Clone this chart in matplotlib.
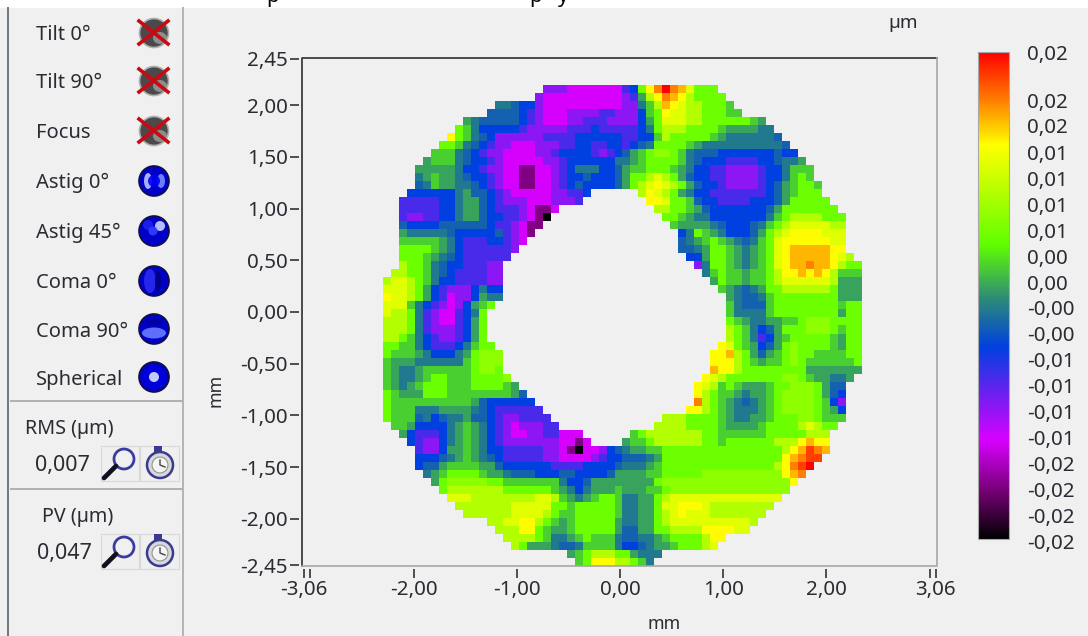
import numpy as np
import matplotlib
matplotlib.use("Agg")
import matplotlib.pyplot as plt
from matplotlib.colors import LinearSegmentedColormap, Normalize
from matplotlib.patches import Circle, Ellipse, Rectangle

plt.rcParams['font.family'] = ['Noto Sans', 'DejaVu Sans']

W, H = 1088, 636
BG = '#f0f0f0'
TXT = '#2b2b33'

# wavefront levels in um, by code letter
level_um = dict(k=-0.0235, d=-0.0183, m=-0.0140, v=-0.0108, p=-0.0080, b=-0.0050,
                s=-0.0028, t=-0.0014, n=0.0009, g=0.0028, l=0.0056, L=0.0078, h=0.0099,
                y=0.0127, Y=0.0146, G=0.0169, o=0.0188, R=0.0212, r=0.0235)

# each row: "<start column><level> ... ;<end column>", '|' separates the two sides of the hole
wave_rows = [
 "20v 23m 30p 31b 32l 33Y 34o 35r 36o 37G 38y 39l ;42",
 "19v 20m 30v 31p 32n 33h 34Y 35o 36G 37Y 38h 39l ;43",
 "14t 16s 17b 19v 20m 30v 32t 33g 34h 35G 36Y 37y 38h 40l 43g ;44",
 "13s 17b 18p 19v 20m 23v 27p 29v 32b 33g 34l 35Y 36y 38h 40l 43g ;45",
 "10n 11t 12s 17b 18p 19v 20m 23v 25p 28v 32b 33n 34l 35y 38h 40l 46g 47n ;48",
 "9l 10g 11t 12b 17p 18v 23p 26b 27p 32b 33t 34l 35h 38l 42g 43n 47t ;49",
 "8Y 9l 10g 11t 12s 13b 14v 20p 24b 30p 32b 34g 35h 36l 41g 42n 43t 49s ;50",
 "7l 9g 10t 11s 12b 13p 14v 16m 19v 22p 24b 26p 28b 30p 31b 32s 33t 34l 38g 39n 40t 50s ;51",
 "6g 9t 10s 11b 12p 13v 15m 19v 21p 22b 26p 27v 28p 29b 30s 31n 32g 33l 34L 36l 37g 38t 39s 42b 49s 50b ;52",
 "5n 6g 9t 10s 11b 13p 14v 15m 20v 22p 23b 29t 31n 32g 33l 37g 38t 39s 40b 43p 47b 49s 50t 52n ;53",
 "4n 9t 10b 12p 13v 15m 17d 19m 21v 22p 23b 24t 27b 29s 30n 31g 33l 36g 37n 38t 39b 41p 43v 47p 48b 50t 51g ;54",
 "4t 5n 6g 7n 9t 10s 11b 13p 14v 15m 17d 19m 21v 22p 23b 25s 26b 29s 30n 31l 33h 34y 35h 36l 37n 38s 39b 41p 43v 47p 48b 50t 51g 52l 53g ;54",
 "4s 5t 6g 7n 9t 11s 12b 13p 14v 15m 17d 19m 21v 22p 23b 24s 25b 29s 30n 31l 32h 33y 34Y 35y 36h 37l 38n 39s 40b 42p 43v 47p 48b 49s 50n 51g 52l 54g ;55",
 "3b 9t 10n 11s 13b 14p 15v 16m 21v 23p 25b ;26 | 32h 33Y 34y 35h 36l 37n 38t 39b 41p 48b 49s 50n 51g 52l ;55",
 "2p 7b 9t 10n 12s 13b 14p 15v 18m 21v 24p ;25 | 33Y 35y 36l 38g 39s 40b 42p 46b 49s 50n 51l ;56",
 "2p 7b 9t 10n 12s 13b 14p 17v 18m 19d 21m ;22 | 34h 36l 38g 39n 40s 41b 48s 49n 50l ;57",
 "2p 3v 5p 7b 9t 10n 12s 13b 15p 17v 18m 19d 20k ;21 | 35l 37g 38n 39t 41b 48t 49g 50l 51h 55l ;58",
 "2s 3b 7s 13b 14p 16v 17m 18d ;20 | 36g 37n 41t 42s 43b 46s 47t 48g 49l 50h 51y 56h ;58",
 "2n 3t 8s 9b 14s 15p 16v 17m 18d ;19 | 37b 38t 39l 40g 41n 42t 43b 46s 47n 48l 49h 50y 51Y 55y ;58",
 "2g 7n 8t 9b 10p 13b 15p 16v 17m ;18 | 37s 38t 39n 40g 41l 42g 43n 44t 45s 46t 47g 48l 49y 50Y 56y ;58",
 "2l 6g 7n 8t 9b 10p 16v ;17 | 37s 39t 40n 41l 43g 44n 45t 46n 47g 48l 49y 50Y 51G 56Y ;58",
 "2l 5g 6n 7t 8s 9b 10p ;16 | 38b 40n 41l 43g 44n 45t 46n 47g 48l 49y 50Y 51G 56Y 57y 58h ;59",
 "2h 3l 5g 6t 7s 8b 10p 13v ;15 | 39v 40t 41l 43g 44n 45t 46n 47g 48l 49y 50Y 51G 53o 54G 56Y 57h 58l ;60",
 "1h 3l 5g 6t 7s 8b 9p 13v ;15 | 40t 41g 42l 43g 45n 46g 48l 49h 50Y 52G 53Y 54G 55Y 56h 57g ;60",
 "0h 1y 3h 4l 5g 6t 7b 9p 13v ;15 | 41n 42l 43g 45n 46g 48l 49h 50y 56h 57n ;60",
 "0y 3h 4l 5n 6b 7p 8v 11b 12t 13b ;15 | 42g 43n 44t 45s 46t 47n 48l 50h 56l 57n ;60",
 "0Y 1y 3h 4l 5n 6b 7p 8m 9v 11b 12n 13t ;15 | 43n 44t 45s 47t 48g 49l 57n ;60",
 "0y 3g 4t 5b 6p 7v 8m 9v 10b 11n 12g 13l ;14 | 43g 44t 45s 48g 49l 57g 58l ;60",
 "0y 1h 3l 4t 5p 6v 7m 9p 10b 11t 12l ;13 | 43g 44t 48g 49l 57n 58l ;60",
 "0h 3l 4t 5p 6v 7m 9p 10b 11n 12l ;13 | 43l 44g 45n 46t 48n 50g 52l 53L 56l ;60",
 "0h 3l 4t 5p 6v 9p 10b 11n 12l ;13 | 43h 44l 45g 46t 47b 48s 49n 50l 53L 56l 57g 58l ;60",
 "0h 2l 3g 4t 5b 6p 7v 9p 10b 11n 12l ;13 | 43h 44l 45g 46t 47p 48b 49n 50g 51l 56g 57n 58l ;60",
 "0l 2g 4t 5b 6p 9b 10t 11g 12l ;14 | 42Y 43y 44l 45g 46n 47b 48s 49n 50l 51L 52l 56g 57n 58l ;60",
 "0l 1g 4n 5t 6b 9t 10n 11l 12L ;15 | 41Y 43G 44h 45l 46n 47s 48n 49g 50l 51L 52l 54g 58l ;60",
 "0g 1n 4t 10g 11l 12L ;15 | 41Y 44h 45l 46g 47n 48g 50l 51L 52l 53g 59l ;60",
 "0g 1n 2t 4n 5g 11l 12L 14l ;15 | 41G 42Y 44h 45l 53n ;60",
 "0g 1n 2t 4n 5g 6l 8g 11l 15L ;16 | 40Y 41y 42h 43l 50L 52l 53g 54n 56t 58n ;59",
 "0g 1n 2t 3n 4g 5l 8g 11l 15g 16n ;17 | 39Y 40y 41h 42g 43l 44g 45n 48g 49l 51L 54l 55n 56s ;58",
 "0l 1g 2n 5l 8g 16n 17s ;18 | 39Y 40h 41l 42g 44n 45t 46n 48g 49l 50L 54l 55n 56s 57b ;58",
 "0l 1g 11n 12s 13b ;19 | 39o 40h 41l 42g 43n 44t 45s 46t 47n 48g 49l 50L 54l 55g 56b 57v ;58",
 "0l 1g 4t 7n 11t 12s 13b 14p ;20 | 38Y 40h 41l 42g 43n 44t 47n 48g 49l 50L 54l 55g 56n 57b ;58",
 "0l 1g 4s 5t 6b 7s 8t 10n 11s 13b 14p 15v 17p ;21 | 35h 38l 42g 43n 44t 46n 48g 49l 52L 54l 55g ;58",
 "1g 3n 4b 8t 9n 10g 11n 12t 13b 14p 15v 16m 17v 20p ;22 | 34h 38l 42g 43n 47g 48l 52h 53y 54h 55l ;57",
 "2n 3b 4p 7b 8t 9n 10g 11n 12t 13b 14p 15v 16m 18v 20p 22m ;25 | 31g 32l 33h 40l 42g 48l 53h ;56",
 "3b 4p 5v 7b 8t 9n 10g 11n 12t 13b 14p 15v 22m 24d 25m ;26 | 30n 31g 33l 34h 40l 42g 43l 49h 52Y 53G 54Y ;56",
 "4p 5v 7b 8n 10g 11n 12t 13b 15p 20v 22m 23d 24k 25m 27v 28b 29s 30t 31n 33g 35l 50h 51Y 52G 53R 54o 55G ;56",
 "4b 7s 8t 9n 10g 11n 12t 13s 14b 15p 20v 22m 26v 27p 28b 30s 33t 34n 35l 50Y 51G 52o 53R ;55",
 "4b 5s 7n 8g 12n 14s 15b 21p 25b 29s 30t 33n 34g 35l 49h 50Y 51o 52R 53r ;54",
 "5t 6n 7g 8l 12g 13n 15t 16s 19b 22s 24b 28s 29n 33g 35l 40L 50Y 51G 52o ;53",
 "6n 7l 8L 13l 15g 22t 23b 25s 26n 34l 35L 51Y ;52",
 "7l 8h 15l 21g 22n 23t 24b 25t 26n 29g 30n 33g 35l 36L ;51",
 "8y 11h 19y 21h 22g 23n 24t 25n 26g 27l 29g 30t 32n 34l 35h 36y ;50",
 "9h 16y 21l 23g 24l 29g 30t 32n 34l 35y 37Y 40y 41h ;49",
 "10h 16y 20h 21l 22g 24l 29g 30t 32n 34l 35h 36y 37Y 38y 41h ;48",
 "13h 15y 17Y 19h 20l 21g 22n 23g 24l 29n 30t 32n 34l 35h 36y 46h ;47",
 "14h 17Y 19l 20g 21n 23g 24l 29n 30s 32n 34l 36h 40Y 44y ;46",
 "15h 19l 20g 21t 23n 24g 25l 26g 29t 30s 32t 34n 35g 36l 40h 41Y ;43",
 "16h 17l 18n 21t 22s 24t 25g 29t 30b 32s 33t 34n 36g 37l 40h 41y ;42",
 "23n 24g 25l 26h 29l 31n 32t ;35",
 "24g 25l 26Y 29h 31l 32g 33t ;34",
]

x_ticks = [-3.06, -3, -2, -1, 0, 1, 2, 3, 3.06]
x_labels = ['-3,06', '', '-2,00', '-1,00', '0,00', '1,00', '2,00', '', '3,06']
y_ticks = [2.45, 2, 1.5, 1, 0.5, 0, -0.5, -1, -1.5, -2, -2.45]
y_labels = ['2,45', '2,00', '1,50', '1,00', '0,50', '0,00', '-0,50', '-1,00', '-1,50', '-2,00', '-2,45']

cbar_values = [0.0234, 0.0187, 0.0163, 0.0137, 0.0112, 0.0087, 0.0062, 0.0037, 0.0012,
               -0.0013, -0.0038, -0.0063, -0.0088, -0.0113, -0.0138, -0.0163, -0.0188,
               -0.0213, -0.0238]
cbar_labels = ['0,02', '0,02', '0,02', '0,01', '0,01', '0,01', '0,01', '0,00', '0,00',
               '-0,00', '-0,00', '-0,01', '-0,01', '-0,01', '-0,01', '-0,02', '-0,02',
               '-0,02', '-0,02']

term_labels = ['Tilt 0°', 'Tilt 90°', 'Focus', 'Astig 0°', 'Astig 45°', 'Coma 0°', 'Coma 90°', 'Spherical']
term_off = [True, True, True, False, False, False, False, False]
rms_value, pv_value = '0,007', '0,047'


def decode(rows):
    grid = np.full((len(rows), 60), np.nan)
    for r, row in enumerate(rows):
        for seg in row.split('|'):
            tokens = seg.split()
            end = int(tokens[-1][1:])
            runs = [(int(t[:-1]), t[-1]) for t in tokens[:-1]]
            for i, (c, code) in enumerate(runs):
                stop = runs[i + 1][0] if i + 1 < len(runs) else end
                grid[r, c:stop] = level_um[code]
    return grid


cmap = LinearSegmentedColormap.from_list('wave', [
    (0.0, '#000000'), (0.10, '#780078'), (0.203, '#d800ff'), (0.394, '#0040e0'),
    (0.50, '#2f9070'), (0.605, '#60ff00'), (0.81, '#ffff00'), (0.90, '#ff8000'), (1.0, '#ff0000')], N=512)
cmap.set_bad(BG)
norm = Normalize(-0.0235, 0.0235)


def px_axes(l, t, r, b, **kw):
    return fig.add_axes([l / W, 1 - b / H, (r - l) / W, (b - t) / H], **kw)


fig = plt.figure(figsize=(W / 100, H / 100), dpi=100, facecolor=BG)
FS = 14.8

# main map
L, T, R, B = 302, 58, 937, 566
ax = px_axes(L, T, R, B, facecolor=BG)
im = ax.imshow(decode(wave_rows), cmap=cmap, norm=norm, interpolation='nearest', aspect='auto',
               extent=[(382.7 - 620) / 103.2, (861.7 - 620) / 103.2, (312 - 566) / 103.4, (312 - 85.7) / 103.4])
ax.set_xlim((L - 620) / 103.2, (R - 620) / 103.2)
ax.set_ylim((312 - B) / 103.4, (312 - T) / 103.4)
for s in ax.spines.values():
    s.set_visible(False)
ax.spines['left'].set_position(('outward', 2.2))
ax.spines['bottom'].set_position(('outward', 2.2))
ax.set_xticks(x_ticks, x_labels, fontsize=FS, color=TXT)
ax.set_yticks(y_ticks, y_labels, fontsize=FS, color=TXT)
ax.tick_params(axis='x', length=6.5, width=1.1, color='#222222', pad=1.5)
ax.tick_params(axis='y', length=6.5, width=1.1, color='#222222', pad=1.5)
ax.set_xlabel('mm', fontsize=12.8, color=TXT, va='center')
ax.xaxis.set_label_coords((664 - L) / (R - L), -(624 - B) / (B - T))
ax.set_ylabel('mm', fontsize=12.8, color=TXT, va='center')
ax.yaxis.set_label_coords(-(L - 215) / (R - L), (B - 390) / (B - T))

# colour bar
cax = px_axes(978, 52, 1009, 539)
cb = fig.colorbar(im, cax=cax)
cb.set_ticks([])
cb.outline.set_edgecolor('#a8a8a8')
cb.outline.set_linewidth(0.8)

# overlay in pixel coordinates
ov = fig.add_axes([0, 0, 1, 1], facecolor='none', zorder=5)
ov.set_xlim(0, W)
ov.set_ylim(H, 0)
ov.axis('off')
ov.add_patch(Rectangle((0, 0), W, 8, fc='white', ec='none'))
for px, ch in [(273, 'p'), (536, 'p'), (563, 'y')]:
    ov.text(px, 2, ch, fontsize=FS, ha='center', va='baseline', color='black', clip_on=False)

# plot frame
ov.plot([L, L, R], [B, T, T], color='#2e2e2e', lw=1.2)
ov.plot([L, R, R], [B, B, T], color='#a6a6a6', lw=1.2)

ov.text(903, 23, 'µm', fontsize=13.6, color=TXT, ha='center', va='center')
for v, lab in zip(cbar_values, cbar_labels):
    y = 539 - (v + 0.0235) / 0.047 * 487
    ov.text(1027, y + 1.5, lab, fontsize=FS, color=TXT, ha='left', va='center')

# side panel
ov.plot([8, 8], [8, H], color='#6f7880', lw=1.4)
ov.plot([183, 183], [8, H], color='#b4b4b4', lw=1.4)
for y in (401, 489):
    ov.plot([11, 182], [y, y], color='#b0b0b0', lw=1.4)

icon_y = [33, 81, 131, 181, 231, 281, 329, 377]
label_y = [35, 83, 133, 183, 233, 283, 332, 380]
highlights = [None, None, None,
              [(148, 181, 8, 16, '#b8c4ff'), (161, 181, 8, 14, '#7a8cff'), (154, 181, 12, 12, '#0000f0')],
              [(148, 225, 10, 10, '#2020f0'), (160, 226, 10, 10, '#c8d4ff'), (153, 231, 9, 9, '#3040ff')],
              [(150, 281, 12, 24, '#2a2af0'), (158, 281, 6, 20, '#000080')],
              [(154, 333, 24, 11, '#6a7cff'), (154, 322, 18, 6, '#0000a0')],
              [(154, 377, 22, 22, '#0000e0'), (154, 377, 10, 10, '#d8e4ff')]]
for lab, yl, yi, off, hl in zip(term_labels, label_y, icon_y, term_off, highlights):
    ov.text(36, yl, lab, fontsize=14.5, color=TXT, ha='left', va='center')
    if off:
        ov.add_patch(Circle((154, yi), 14.5, fc='#4a4a4a', ec='#b0b0b0', lw=1.2))
        ov.add_patch(Ellipse((160, yi + 5), 14, 12, fc='#aaaaaa', ec='none', alpha=0.7))
        ov.plot([139, 168], [yi - 12, yi + 11], color='#c80a14', lw=2.6)
        ov.plot([139, 168], [yi + 11, yi - 12], color='#c80a14', lw=2.6)
    else:
        ov.add_patch(Circle((154, yi), 15, fc='#0000c8', ec='#101040', lw=1.2))
        for (x0, y0, w, h, c) in hl:
            ov.add_patch(Ellipse((x0, y0), w, h, fc=c, ec='none', alpha=0.9))

ov.text(69, 429, 'RMS (µm)', fontsize=14.2, color=TXT, ha='center', va='center')
ov.text(62, 465, rms_value, fontsize=15.5, color=TXT, ha='center', va='center')
ov.text(78, 517, 'PV (µm)', fontsize=14.2, color=TXT, ha='center', va='center')
ov.text(64, 553, pv_value, fontsize=15.5, color=TXT, ha='center', va='center')

for yc in (464, 552):
    ov.add_patch(Rectangle((101, yc - 18), 38, 35, fc='#efefef', ec='#d8d8d8', lw=0.8))
    ov.add_patch(Rectangle((140, yc - 18), 39, 35, fc='#efefef', ec='#d8d8d8', lw=0.8))
    ov.add_patch(Circle((124, yc - 5), 10, fc='#f0f0f0', ec='#3c3ca0', lw=2))
    ov.plot([104, 116], [yc + 14, yc + 2], color='#101020', lw=3.4, solid_capstyle='round')
    ov.add_patch(Circle((160, yc + 1), 13, fc='#d8d8d8', ec='#3a3a90', lw=1.8))
    ov.add_patch(Circle((160, yc + 1), 8, fc='#f4f4f4', ec='#888888', lw=0.7))
    ov.plot([160, 160, 165], [yc - 4, yc + 1, yc + 3], color='#444444', lw=1)
    ov.add_patch(Rectangle((154, yc - 18), 8, 6, fc='#3a3a90', ec='none'))

fig.savefig('out.png', dpi=100, facecolor=BG)
